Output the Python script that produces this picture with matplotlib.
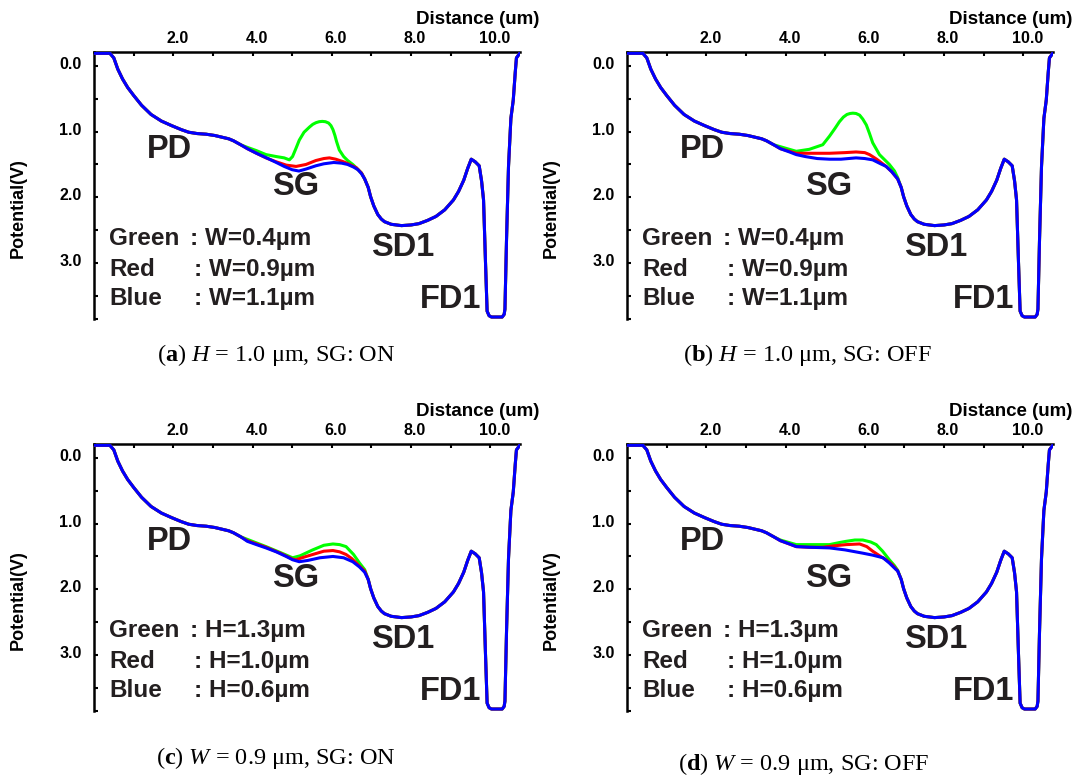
import numpy as np
import matplotlib
matplotlib.use('Agg')
import matplotlib.pyplot as plt
import matplotlib.transforms as mtransforms

plt.rcParams['font.family'] = ['Liberation Sans', 'DejaVu Sans']
plt.rcParams['mathtext.fontset'] = 'custom'
plt.rcParams['mathtext.rm'] = 'Liberation Serif'
plt.rcParams['mathtext.it'] = 'Liberation Serif:italic'
plt.rcParams['mathtext.bf'] = 'Liberation Serif:bold'

# common part of the potential profile (PD side)
x_left = [0.0, 0.40, 0.50, 0.60, 0.72, 0.85, 1.00, 1.20, 1.44, 1.70, 1.96, 2.20,
          2.39, 2.60, 2.83, 3.05, 3.26, 3.40, 3.52, 3.70]
pot_left = [-0.19, -0.19, -0.12, 0.05, 0.20, 0.33, 0.45, 0.60, 0.74, 0.84, 0.91, 0.97,
            1.01, 1.03, 1.04, 1.06, 1.09, 1.11, 1.14, 1.20]

# common part (SD1 / FD1 side)
x_right = [6.92, 6.98, 7.06, 7.16, 7.25, 7.33, 7.50, 7.76, 8.00, 8.20, 8.42, 8.63,
           8.85, 9.07, 9.20, 9.33, 9.43, 9.52, 9.62, 9.72, 9.78, 9.83, 9.88, 9.92,
           9.97, 10.03, 10.30, 10.35, 10.37, 10.41, 10.46, 10.52, 10.58, 10.63,
           10.66, 10.72, 10.74]
pot_right = [1.85, 1.99, 2.13, 2.26, 2.33, 2.37, 2.41, 2.43, 2.42, 2.40, 2.35, 2.29,
             2.19, 2.04, 1.91, 1.74, 1.56, 1.42, 1.46, 1.52, 1.75, 2.04, 3.00, 3.73,
             3.80, 3.82, 3.82, 3.78, 3.70, 2.64, 1.53, 0.80, 0.52, 0.10,
             -0.12, -0.17, -0.19]

# SG region, panel (a): H = 1.0 um, SG ON
a_green_x = [3.87, 4.10, 4.34, 4.60, 4.80, 4.93, 5.01, 5.10, 5.18, 5.30, 5.44, 5.52,
             5.60, 5.68, 5.76, 5.84, 5.92, 5.98, 6.03, 6.08, 6.12, 6.19, 6.30, 6.40,
             6.53, 6.65, 6.75, 6.83]
a_green_y = [1.24, 1.29, 1.35, 1.38, 1.40, 1.43, 1.38, 1.25, 1.13, 1.01, 0.93, 0.89,
             0.865, 0.85, 0.845, 0.85, 0.87, 0.91, 0.97, 1.06, 1.15, 1.28, 1.38, 1.44,
             1.50, 1.57, 1.63, 1.72]
a_red_x = [3.87, 4.10, 4.34, 4.60, 4.85, 5.10, 5.35, 5.60, 5.80, 5.94, 6.10, 6.30,
           6.45, 6.62, 6.75, 6.83]
a_red_y = [1.26, 1.33, 1.40, 1.46, 1.51, 1.53, 1.50, 1.44, 1.41, 1.40, 1.42, 1.46,
           1.50, 1.55, 1.63, 1.72]
a_blue_x = [3.87, 4.10, 4.39, 4.60, 4.80, 5.00, 5.17, 5.35, 5.60, 5.80, 6.05, 6.25,
            6.40, 6.55, 6.66, 6.75, 6.83]
a_blue_y = [1.26, 1.33, 1.41, 1.47, 1.53, 1.58, 1.60, 1.57, 1.52, 1.49, 1.47, 1.48,
            1.50, 1.54, 1.58, 1.64, 1.72]

# panel (b): H = 1.0 um, SG OFF
b_green_x = [3.87, 4.27, 4.60, 4.94, 5.11, 5.25, 5.36, 5.46, 5.55, 5.63, 5.70, 5.78,
             5.87, 5.95, 6.04, 6.12, 6.20, 6.37, 6.62, 6.75, 6.83]
b_green_y = [1.23, 1.30, 1.27, 1.20, 1.07, 0.95, 0.85, 0.78, 0.74, 0.725, 0.72, 0.725,
             0.75, 0.81, 0.90, 1.03, 1.17, 1.35, 1.50, 1.60, 1.70]
b_red_x = [3.87, 4.27, 4.60, 5.11, 5.50, 5.78, 6.00, 6.12, 6.30, 6.54, 6.68, 6.83]
b_red_y = [1.26, 1.33, 1.33, 1.33, 1.32, 1.31, 1.32, 1.35, 1.42, 1.53, 1.61, 1.72]
b_blue_x = [3.87, 4.10, 4.27, 4.50, 4.80, 5.11, 5.40, 5.78, 6.00, 6.20, 6.40, 6.54,
            6.68, 6.83]
b_blue_y = [1.26, 1.31, 1.35, 1.38, 1.41, 1.42, 1.42, 1.40, 1.41, 1.43, 1.49, 1.53,
            1.61, 1.72]

# panel (c): W = 0.9 um, SG ON
c_green_x = [3.87, 4.34, 4.70, 5.01, 5.20, 5.52, 5.80, 6.03, 6.20, 6.36, 6.55, 6.70,
             6.83]
c_green_y = [1.24, 1.35, 1.44, 1.52, 1.49, 1.40, 1.33, 1.31, 1.32, 1.35, 1.47, 1.60,
             1.70]
c_red_x = [3.87, 4.34, 4.70, 5.01, 5.10, 5.30, 5.52, 5.80, 6.03, 6.20, 6.36, 6.50,
           6.62, 6.72, 6.83]
c_red_y = [1.26, 1.36, 1.45, 1.54, 1.55, 1.51, 1.47, 1.42, 1.41, 1.43, 1.47, 1.53,
           1.60, 1.66, 1.72]
c_blue_x = [3.87, 4.10, 4.34, 4.60, 4.85, 5.01, 5.18, 5.40, 5.70, 6.03, 6.30, 6.53,
            6.70, 6.83]
c_blue_y = [1.27, 1.32, 1.37, 1.43, 1.50, 1.55, 1.58, 1.56, 1.52, 1.50, 1.52, 1.58,
            1.66, 1.74]

# panel (d): W = 0.9 um, SG OFF
d_green_x = [3.87, 4.27, 4.70, 5.11, 5.35, 5.53, 5.75, 5.95, 6.15, 6.29, 6.45, 6.62,
             6.75, 6.83]
d_green_y = [1.25, 1.32, 1.32, 1.32, 1.29, 1.27, 1.25, 1.25, 1.28, 1.32, 1.42, 1.55,
             1.64, 1.71]
d_red_x = [3.87, 4.27, 4.60, 4.94, 5.20, 5.53, 5.87, 6.05, 6.20, 6.40, 6.54, 6.70,
           6.83]
d_red_y = [1.26, 1.35, 1.36, 1.36, 1.34, 1.32, 1.31, 1.35, 1.42, 1.50, 1.55, 1.63,
           1.72]
d_blue_x = [3.87, 4.10, 4.27, 4.60, 5.11, 5.50, 5.95, 6.20, 6.46, 6.62, 6.79, 6.83]
d_blue_y = [1.26, 1.31, 1.35, 1.36, 1.37, 1.40, 1.45, 1.48, 1.52, 1.60, 1.70, 1.72]

legend_names = ['Green', 'Red', 'Blue']
legend_w = [': W=0.4\u00b5m', ': W=0.9\u00b5m', ': W=1.1\u00b5m']
legend_h = [': H=1.3\u00b5m', ': H=1.0\u00b5m', ': H=0.6\u00b5m']
captions = [r'($\mathbf{a}$) $\mathit{H}$ = 1.0 $\mathrm{\mu}$m, SG: ON',
            r'($\mathbf{b}$) $\mathit{H}$ = 1.0 $\mathrm{\mu}$m, SG: OFF',
            r'($\mathbf{c}$) $\mathit{W}$ = 0.9 $\mathrm{\mu}$m, SG: ON',
            r'($\mathbf{d}$) $\mathit{W}$ = 0.9 $\mathrm{\mu}$m, SG: OFF']

panels = [
    ((a_green_x, a_green_y), (a_red_x, a_red_y), (a_blue_x, a_blue_y), legend_w),
    ((b_green_x, b_green_y), (b_red_x, b_red_y), (b_blue_x, b_blue_y), legend_w),
    ((c_green_x, c_green_y), (c_red_x, c_red_y), (c_blue_x, c_blue_y), legend_h),
    ((d_green_x, d_green_y), (d_red_x, d_red_y), (d_blue_x, d_blue_y), legend_h),
]

fig = plt.figure(figsize=(10.78, 7.76), dpi=100)
W, H = 1078.0, 776.0
# axes boxes in pixels: left, top, right, bottom
boxes = [(94, 52, 520, 319), (627, 52, 1053, 319),
         (94, 444, 520, 711), (627, 444, 1053, 711)]
cap_pos = [(276, 355), (807, 355), (276, 758), (804, 764)]

for i, (box, pan) in enumerate(zip(boxes, panels)):
    l, t, r, b = box
    ax = fig.add_axes([l / W, 1 - b / H, (r - l) / W, (b - t) / H])
    for (sx, sy), col in zip(pan[:3], ['#00ff00', '#ff0000', '#0000ff']):
        xs = np.concatenate([x_left, sx, x_right])
        ys = np.concatenate([pot_left, sy, pot_right])
        ax.plot(xs, ys, color=col, lw=2.2, solid_joinstyle='round',
                solid_capstyle='round', zorder=3)
    ax.set_xlim(0, 10.75)
    ax.set_ylim(3.85, -0.21)
    ax.spines['right'].set_visible(False)
    ax.spines['bottom'].set_visible(False)
    ax.spines['left'].set_linewidth(1.8)
    ax.spines['top'].set_linewidth(1.8)
    ax.xaxis.set_ticks_position('top')
    ax.set_xticks([2, 4, 6, 8, 10])
    ax.set_xticklabels(['2.0', '4.0', '6.0', '8.0', '10.0'])
    ax.set_xticks([1, 3, 5, 7, 9], minor=True)
    ax.set_yticks([0, 1, 2, 3])
    ax.set_yticklabels(['0.0', '1.0', '2.0', '3.0'])
    ax.set_yticks([0.5, 1.5, 2.5, 3.5, 3.85], minor=True)
    ax.tick_params(axis='both', which='both', direction='in', length=3, width=1.5,
                   labelsize=11.5)
    ax.tick_params(axis='x', pad=4)
    ax.tick_params(axis='y', pad=9)
    for lab in ax.get_xticklabels() + ax.get_yticklabels():
        lab.set_fontweight('bold')
    off = mtransforms.ScaledTranslation(4 / 100, 0, fig.dpi_scale_trans)
    for lab in ax.get_xticklabels():
        lab.set_transform(lab.get_transform() + off)
    off_y = mtransforms.ScaledTranslation(0, 3 / 100, fig.dpi_scale_trans)
    for lab in ax.get_yticklabels():
        lab.set_transform(lab.get_transform() + off_y)

    ax.text(1.045, 1.12, 'Distance (um)', transform=ax.transAxes, ha='right',
            va='center', fontsize=13.5, fontweight='bold')
    ax.text(-0.178, 0.415, 'Potential(V)', transform=ax.transAxes, rotation=90,
            ha='center', va='center', fontsize=13, fontweight='bold')

    big = dict(fontsize=23.5, fontweight='bold', color='#231f20', ha='center', va='center')
    ax.text(1.9, 1.28, 'PD', **big)
    ax.text(5.08, 1.84, 'SG', **big)
    ax.text(7.79, 2.77, 'SD1', **big)
    ax.text(9.0, 3.56, 'FD1', **big)

    for k, (nm, val) in enumerate(zip(legend_names, pan[3])):
        yy = [2.63, 3.10, 3.54][k]
        ax.text(0.38, yy, nm, fontsize=17.5, fontweight='bold', color='#231f20',
                va='center', ha='left')
        ax.text(2.43 if k == 0 else 2.53, yy, val, fontsize=17.5, fontweight='bold',
                color='#231f20', va='center', ha='left')

    fig.text(cap_pos[i][0] / W, 1 - cap_pos[i][1] / H, captions[i],
             family='Liberation Serif', fontsize=17.5, ha='center', va='center')

fig.savefig('out.png', dpi=100)
